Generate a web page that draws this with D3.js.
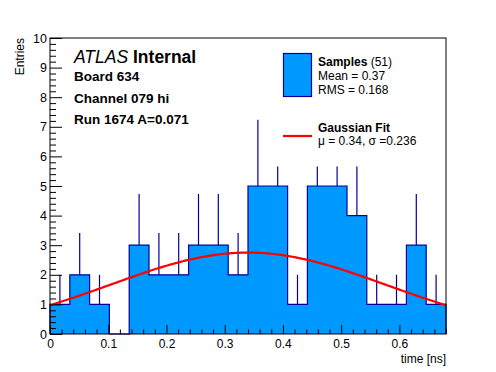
<!DOCTYPE html>
<html>
<head>
<meta charset="utf-8">
<script src="https://cdn.jsdelivr.net/npm/d3@7"></script>
<style>
  body { margin: 0; background: #fff; }
  svg { display: block; font-family: "Liberation Sans", Arial, Helvetica, sans-serif; }
</style>
</head>
<body>
<svg id="svg1" width="496" height="372"></svg>
<script>
// histogram: 20 bins of 0.034 ns from 0 to 0.68
var binEdges = d3.range(21).map(function(i) { return +(i * 0.034).toFixed(3); });
var binCounts = [1, 2, 1, 0, 3, 2, 2, 3, 3, 2, 5, 5, 1, 5, 5, 4, 1, 1, 3, 1];

// gaussian fit parameters
var fitAmp = 2.75, fitMean = 0.34, fitSigma = 0.236;

var xTicks = [0, 0.1, 0.2, 0.3, 0.4, 0.5, 0.6];
var yTicks = d3.range(0, 11);

var infoLines = ["Board 634", "Channel 079 hi", "Run 1674 A=0.071"];

var fillCol = "#0099ff", lineCol = "#000099";

var svg = d3.select("#svg1");
var margin = {top: 38, right: 50, bottom: 38, left: 50};
var W = 496, H = 372;

var xScale = d3.scaleLinear().domain([0, 0.68]).range([margin.left, W - margin.right]);
var yScale = d3.scaleLinear().domain([0, 10]).range([H - margin.bottom, margin.top]);

// histogram as a step area
var steps = [];
binCounts.forEach(function(c, i) {
    steps.push([binEdges[i], c]);
    steps.push([binEdges[i + 1], c]);
});

svg.append("path")
    .datum(steps)
    .attr("fill", fillCol)
    .attr("d", d3.area().x(d => xScale(d[0])).y0(yScale(0)).y1(d => yScale(d[1])));

// outline with drops to zero at the ends
var outline = [[0, 0]].concat(steps).concat([[0.68, 0]]);
svg.append("path")
    .datum(outline)
    .attr("fill", "none")
    .attr("stroke", lineCol)
    .attr("stroke-width", 1.2)
    .attr("d", d3.line().x(d => xScale(d[0])).y(d => yScale(d[1])));

// error bars (sqrt n), visible part above the bar
svg.append("g").selectAll("line")
    .data(binCounts.map((c, i) => ({c: c, x: (binEdges[i] + binEdges[i + 1]) / 2})).filter(d => d.c > 0))
    .enter().append("line")
    .attr("x1", d => xScale(d.x)).attr("x2", d => xScale(d.x))
    .attr("y1", d => yScale(d.c))
    .attr("y2", d => yScale(d.c + Math.sqrt(d.c)))
    .attr("stroke", lineCol)
    .attr("stroke-width", 1.2);

// gaussian curve
var fitPts = d3.range(0, 0.6801, 0.004).map(function(t) {
    return [t, fitAmp * Math.exp(-Math.pow(t - fitMean, 2) / (2 * fitSigma * fitSigma))];
});
svg.append("path")
    .datum(fitPts)
    .attr("fill", "none")
    .attr("stroke", "#ff0000")
    .attr("stroke-width", 2.2)
    .attr("d", d3.line().x(d => xScale(d[0])).y(d => yScale(d[1])));

// legend background (hides error bars behind it)
svg.append("rect")
    .attr("x", 266).attr("y", 40).attr("width", 176).attr("height", 126.5)
    .attr("fill", "#fff");

// frame
svg.append("rect")
    .attr("x", xScale(0)).attr("y", yScale(10))
    .attr("width", xScale(0.68) - xScale(0))
    .attr("height", yScale(0) - yScale(10))
    .attr("fill", "none").attr("stroke", "#000").attr("stroke-width", 1);

// x axis: ticks pointing inside
var xMinor = d3.range(0, 0.681, 0.02).map(v => +v.toFixed(2)).filter(v => xTicks.indexOf(v) < 0);
var gx = svg.append("g").attr("transform", `translate(0, ${yScale(0)})`);
gx.call(d3.axisBottom(xScale).tickValues(xTicks).tickSize(-9).tickFormat(d3.format("")));
gx.call(g => g.select(".domain").remove());
gx.selectAll("text").attr("y", 5).attr("dy", "0.71em").style("font-size", "12px").style("font-family", "inherit");
var gx2 = svg.append("g").attr("transform", `translate(0, ${yScale(0)})`);
gx2.call(d3.axisBottom(xScale).tickValues(xMinor).tickSize(-4.5).tickFormat(""));
gx2.call(g => g.select(".domain").remove());

// y axis
var yMinor = d3.range(0, 10.01, 0.2).map(v => +v.toFixed(1)).filter(v => yTicks.indexOf(v) < 0);
var gy = svg.append("g").attr("transform", `translate(${xScale(0)}, 0)`);
gy.call(d3.axisLeft(yScale).tickValues(yTicks).tickSize(-12).tickFormat(d3.format("d")));
gy.call(g => g.select(".domain").remove());
gy.selectAll("text").attr("x", -3).style("font-size", "12.5px").style("font-family", "inherit");
var gy2 = svg.append("g").attr("transform", `translate(${xScale(0)}, 0)`);
gy2.call(d3.axisLeft(yScale).tickValues(yMinor).tickSize(-6).tickFormat(""));
gy2.call(g => g.select(".domain").remove());
svg.selectAll(".tick line").attr("stroke", "#000");

// axis titles
svg.append("text")
    .attr("x", xScale(0.68)).attr("y", 363)
    .style("text-anchor", "end").style("font-size", "12px")
    .text("time [ns]");
svg.append("text")
    .attr("transform", "rotate(-90)")
    .attr("x", -yScale(10)).attr("y", 24)
    .style("text-anchor", "end").style("font-size", "12px")
    .text("Entries");

// ATLAS label
var atl = svg.append("text").attr("x", 74).attr("y", 63).style("font-size", "17.5px");
atl.append("tspan").style("font-style", "italic").text("ATLAS");
atl.append("tspan").style("font-weight", "bold").text(" Internal");

svg.selectAll(".info")
    .data(infoLines)
    .enter().append("text")
    .attr("class", "info")
    .attr("x", 74)
    .attr("y", (d, i) => 81 + i * 21.5)
    .style("font-size", "13.5px").style("font-weight", "bold")
    .text(d => d);

// legend
svg.append("rect")
    .attr("x", 283.5).attr("y", 53.5).attr("width", 28).attr("height", 43)
    .attr("fill", fillCol).attr("stroke", lineCol).attr("stroke-width", 1.2);
var l1 = svg.append("text").attr("x", 318).attr("y", 66).style("font-size", "12px");
l1.append("tspan").style("font-weight", "bold").text("Samples");
l1.append("tspan").text(" (51)");
svg.append("text").attr("x", 318).attr("y", 80).style("font-size", "12px").text("Mean = 0.37");
svg.append("text").attr("x", 318).attr("y", 94).style("font-size", "12px").text("RMS = 0.168");

svg.append("line")
    .attr("x1", 283).attr("x2", 312).attr("y1", 136).attr("y2", 136)
    .attr("stroke", "#ff0000").attr("stroke-width", 2.2);
svg.append("text").attr("x", 318).attr("y", 132).style("font-size", "12px").style("font-weight", "bold").text("Gaussian Fit");
svg.append("text").attr("x", 318).attr("y", 145).style("font-size", "12px").text("\u03bc = 0.34, \u03c3 =0.236");
</script>
</body>
</html>
